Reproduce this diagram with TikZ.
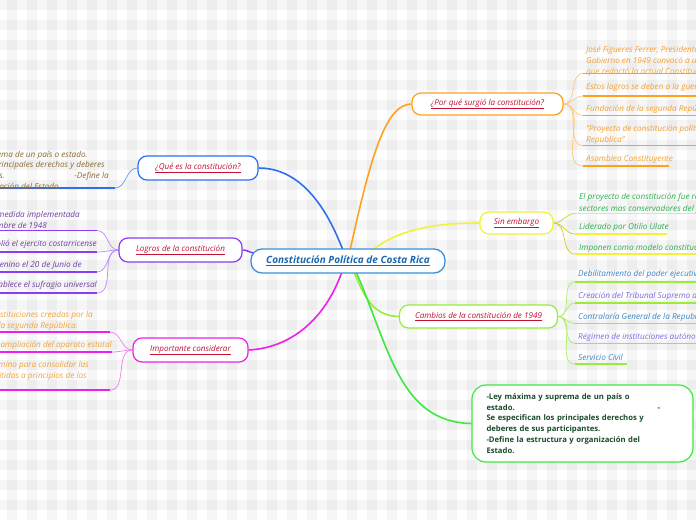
\documentclass[tikz,border=0pt]{standalone}
\usepackage{fontspec}
\setmainfont{Open Sans}
\usetikzlibrary{calc}
\pgfdeclarelayer{stripes}
\pgfdeclarelayer{links}
\pgfsetlayers{stripes,links,main}
\definecolor{cblue}{HTML}{2F6FEF}
\definecolor{corange}{HTML}{FFA11F}
\definecolor{cyellow}{HTML}{F2F23A}
\definecolor{clime}{HTML}{98EC3A}
\definecolor{cgreen}{HTML}{3EE83E}
\definecolor{cmagenta}{HTML}{EE1FEE}
\definecolor{cpurple}{HTML}{8C3CF5}
\definecolor{tred}{HTML}{C41230}
\definecolor{roottext}{HTML}{1A68B0}
\definecolor{rootborder}{HTML}{3D90D5}
\definecolor{qetext}{HTML}{8B6B35}
\definecolor{lgtext}{HTML}{7040A0}
\definecolor{imtext}{HTML}{F2A33A}
\definecolor{pqtext}{HTML}{F5A133}
\definecolor{sntext}{HTML}{2EAE4E}
\definecolor{cbblue}{HTML}{3D86C6}
\definecolor{cblav}{HTML}{7B6BE0}
\definecolor{deftext}{HTML}{1C4A2C}
\tikzset{
  topic/.style={draw, fill=white, line width=1.2pt, rounded corners=9pt, inner sep=0pt,
    font=\fontsize{8.1}{9}\selectfont\itshape, text=tred},
  mainlink/.style={line width=1.6pt},
  childlink/.style={line width=0.7pt},
  uline/.style={line width=1.6pt},
  ctxtR/.style={inner sep=0pt, anchor=base west, font=\fontsize{8.2}{9}\selectfont\itshape},
  ctxtL/.style={inner sep=0pt, anchor=base east, font=\fontsize{8.2}{9}\selectfont\itshape},
}
\begin{document}
\begin{tikzpicture}[x=1pt,y=-1pt]
\useasboundingbox (0,0) rectangle (696,520);
\begin{pgfonlayer}{stripes}
\fill[white] (0,0) rectangle (696,520);
\foreach \i in {0,...,34} \fill[black,opacity=0.035] (7+20*\i,0) rectangle (17+20*\i,520);
\foreach \j in {0,...,25} \fill[black,opacity=0.035] (0,20*\j) rectangle (696,20*\j+10);
\end{pgfonlayer}
\clip (0,0) rectangle (696,520);

% root and topics
\node[draw=rootborder, fill=white, line width=1.3pt, rounded corners=11pt, minimum width=194pt, minimum height=24pt, inner sep=0pt,
  font=\fontsize{10}{11}\selectfont\bfseries\itshape, text=roottext] (root) at (348,261) {\underline{Constitución Política de Costa Rica}};
\node[topic, draw=cblue, minimum width=120pt, minimum height=24pt] (qe) at (198,168) {\underline{¿Qué es la constitución?}};
\node[topic, draw=cpurple, minimum width=123pt, minimum height=24pt] (lg) at (180.5,250) {\underline{Logros de la constitución}};
\node[topic, draw=cmagenta, minimum width=115pt, minimum height=24pt] (imp) at (190.5,350) {\underline{Importante considerar}};
\node[topic, draw=corange, minimum width=151pt, minimum height=22pt] (pq) at (487.5,104) {\underline{¿Por qué surgió la constitución?}};
\node[topic, draw=cyellow, minimum width=73pt, minimum height=22pt] (sin) at (516.5,223) {\underline{Sin embargo}};
\node[topic, draw=clime, minimum width=158pt, minimum height=23pt] (cb) at (478.5,316.5) {\underline{Cambios de la constitución de 1949}};
\node[draw=cgreen, fill=white, line width=1.2pt, rounded corners=14pt, minimum width=221pt, minimum height=77pt, inner sep=0pt,
  text width=192pt, align=left, font=\fontsize{7.7}{10.9}\selectfont\bfseries, text=deftext] (def) at (582.5,423.5)
  {-Ley máxima y suprema de un país o\\ estado.\hspace*{143pt}-\\ Se especifican los principales derechos y\\ deberes de sus participantes.\\ -Define la estructura y organización del\\ Estado.};

% underline coordinates
\coordinate (qea) at (115,188); \coordinate (qeb) at (0,188);
\coordinate (lga) at (97,230.5); \coordinate (lga2) at (0,230.5);
\coordinate (lgb) at (97,252); \coordinate (lgb2) at (0,252);
\coordinate (lgc) at (97,272); \coordinate (lgc2) at (0,272);
\coordinate (lgd) at (97,293); \coordinate (lgd2) at (0,293);
\coordinate (ima) at (110,332); \coordinate (ima2) at (0,332);
\coordinate (imb) at (112,352); \coordinate (imb2) at (0,352);
\coordinate (imc) at (110,390); \coordinate (imc2) at (0,390);
\coordinate (pqa) at (583,73.5); \coordinate (pqa2) at (696,73.5);
\coordinate (pqb) at (583,96); \coordinate (pqb2) at (696,96);
\coordinate (pqc) at (583,115.5); \coordinate (pqc2) at (696,115.5);
\coordinate (pqd) at (583,145.5); \coordinate (pqd2) at (696,145.5);
\coordinate (pqe) at (583,166); \coordinate (pqe2) at (669,166);
\coordinate (sna) at (575,213.5); \coordinate (sna2) at (696,213.5);
\coordinate (snb) at (575,234); \coordinate (snb2) at (667,234);
\coordinate (snc) at (575,254); \coordinate (snc2) at (696,254);
\coordinate (cba) at (575,282); \coordinate (cba2) at (696,282);
\coordinate (cbb) at (575,303); \coordinate (cbb2) at (696,303);
\coordinate (cbc) at (575,323.5); \coordinate (cbc2) at (696,323.5);
\coordinate (cbd) at (575,343.5); \coordinate (cbd2) at (696,343.5);
\coordinate (cbe) at (575,364); \coordinate (cbe2) at (627,364);

\begin{pgfonlayer}{links}
\draw[mainlink, cblue] ($(root.north)+(-5,2)$) .. controls (320,190) and (290,168) .. (qe.east);
\draw[mainlink, corange] ($(root.north)+(2,2)$) .. controls (370,160) and (385,104) .. (pq.west);
\draw[mainlink, cyellow] ($(root.north)+(24,2)$) .. controls (400,228) and (440,223) .. (sin.west);
\draw[mainlink, cpurple] (lg.east) .. controls (248,250) and (250,253) .. ($(root.west)+(4,-8)$);
\draw[mainlink, cmagenta] ($(root.south)+(-6,-2)$) .. controls (325,320) and (290,348) .. (imp.east);
\draw[mainlink, clime] ($(root.south)+(6,-2)$) .. controls (365,300) and (375,316) .. (cb.west);
\draw[mainlink, cgreen] ($(root.south)+(8,-2)$) .. controls (390,350) and (400,422) .. (def.west);

\draw[childlink, cblue!70] (qe.west) to[out=180,in=0] (qea);
\draw[uline, cblue] (qea) -- (qeb);
\foreach \a in {lga,lgb,lgc,lgd} \draw[childlink, cpurple!60] (lg.west) to[out=180,in=0] (\a);
\draw[uline, cpurple] (lga) -- (lga2);
\draw[uline, cpurple] (lgb) -- (lgb2);
\draw[uline, cpurple] (lgc) -- (lgc2);
\draw[uline, cpurple] (lgd) -- (lgd2);
\foreach \a in {ima,imb,imc} \draw[childlink, cmagenta!60] (imp.west) to[out=180,in=0] (\a);
\draw[uline, cmagenta] (ima) -- (ima2);
\draw[uline, cmagenta] (imb) -- (imb2);
\draw[uline, cmagenta] (imc) -- (imc2);
\foreach \a in {pqa,pqb,pqc,pqd,pqe} \draw[childlink, corange!60] (pq.east) to[out=0,in=180] (\a);
\draw[uline, corange] (pqa) -- (pqa2);
\draw[uline, corange] (pqb) -- (pqb2);
\draw[uline, corange] (pqc) -- (pqc2);
\draw[uline, corange] (pqd) -- (pqd2);
\draw[uline, corange] (pqe) -- (pqe2);
\foreach \a in {sna,snb,snc} \draw[childlink, cyellow!85!black] (sin.east) to[out=0,in=180] (\a);
\draw[uline, cyellow] (sna) -- (sna2);
\draw[uline, cyellow] (snb) -- (snb2);
\draw[uline, cyellow] (snc) -- (snc2);
\foreach \a in {cba,cbb,cbc,cbd,cbe} \draw[childlink, clime!80] (cb.east) to[out=0,in=180] (\a);
\draw[uline, clime] (cba) -- (cba2);
\draw[uline, clime] (cbb) -- (cbb2);
\draw[uline, clime] (cbc) -- (cbc2);
\draw[uline, clime] (cbd) -- (cbd2);
\draw[uline, clime] (cbe) -- (cbe2);
\end{pgfonlayer}

% left children texts
\begin{scope}[every node/.append style={ctxtL, text=qetext}]
\node (qe1) at (88,157.2) {-Ley máxima y suprema de un país o estado.};
\node (qe2) at (105,167.5) {Se especifican los principales derechos y deberes};
\node (qe3a) at (5,178.2) {de sus participantes.};
\node (qe3b) at (109,178.2) {-Define la};
\node (qe4) at (61,189.2) {estructura y organización del Estado.};
\end{scope}
\begin{scope}[every node/.append style={ctxtL, text=lgtext}]
\node (lg1a) at (80,217) {La primera medida implementada};
\node (lg1b) at (47,228.5) {en diciembre de 1948};
\node (lg2) at (97,246.5) {Se abolió el ejercito costarricense};
\node (lg3) at (82,267.5) {Voto femenino el 20 de Junio de};
\node (lg4) at (97,287.5) {Se establece el sufragio universal};
\end{scope}
\begin{scope}[every node/.append style={ctxtL, text=imtext}]
\node (im1a) at (93,317.5) {Las instituciones creadas por la};
\node (im1b) at (78,328) {de la segunda República.};
\node (im2) at (112,347.5) {Hubo una ampliación del aparato estatal};
\node (im3a) at (89,367.5) {Abrió el camino para consolidar las};
\node (im3b) at (87,378.5) {reformas emitidas a principios de los};
\end{scope}

% right children texts
\begin{scope}[every node/.append style={ctxtR, text=pqtext}]
\node (pq1a) at (586,52.5) {José Figueres Ferrer, Presidente de la Junta Fundadora};
\node (pq1b) at (586,63.5) {Gobierno en 1949 convocó a una Asamblea Constituyente};
\node (pq1c) at (586,74.5) {que redactó la actual Constitución};
\node (pq2) at (586,89.5) {Estos logros se deben a la guerra civil de 1948};
\node (pq3) at (586,111.5) {Fundación de la segunda República};
\node (pq4a) at (586,131.5) {"Proyecto de constitución política de la Segunda};
\node (pq4b) at (586,142.5) {Republica"};
\node (pq5) at (586,161.5) {Asamblea Constituyente};
\end{scope}
\begin{scope}[every node/.append style={ctxtR, text=sntext}]
\node (sn1a) at (579,199.5) {El proyecto de constitución fue rechazado por los};
\node (sn1b) at (579,211.5) {sectores mas conservadores del país};
\node (sn2) at (579,229.5) {Liderado por Otilio Ulate};
\node (sn3) at (579,250.5) {Imponen como modelo constitucional el de 1871};
\end{scope}
\begin{scope}[every node/.append style={ctxtR}]
\node[text=cbblue] (cb1) at (578,276.5) {Debilitamiento del poder ejecutivo};
\node[text=cblav] (cb2) at (578,298.5) {Creación del Tribunal Supremo de Elecciones};
\node[text=cbblue] (cb3) at (578,319.5) {Contraloría General de la Republica};
\node[text=cblav] (cb4) at (578,339.5) {Régimen de instituciones autónomas};
\node[text=cbblue] (cb5) at (578,360.5) {Servicio Civil};
\end{scope}
\end{tikzpicture}
\end{document}
